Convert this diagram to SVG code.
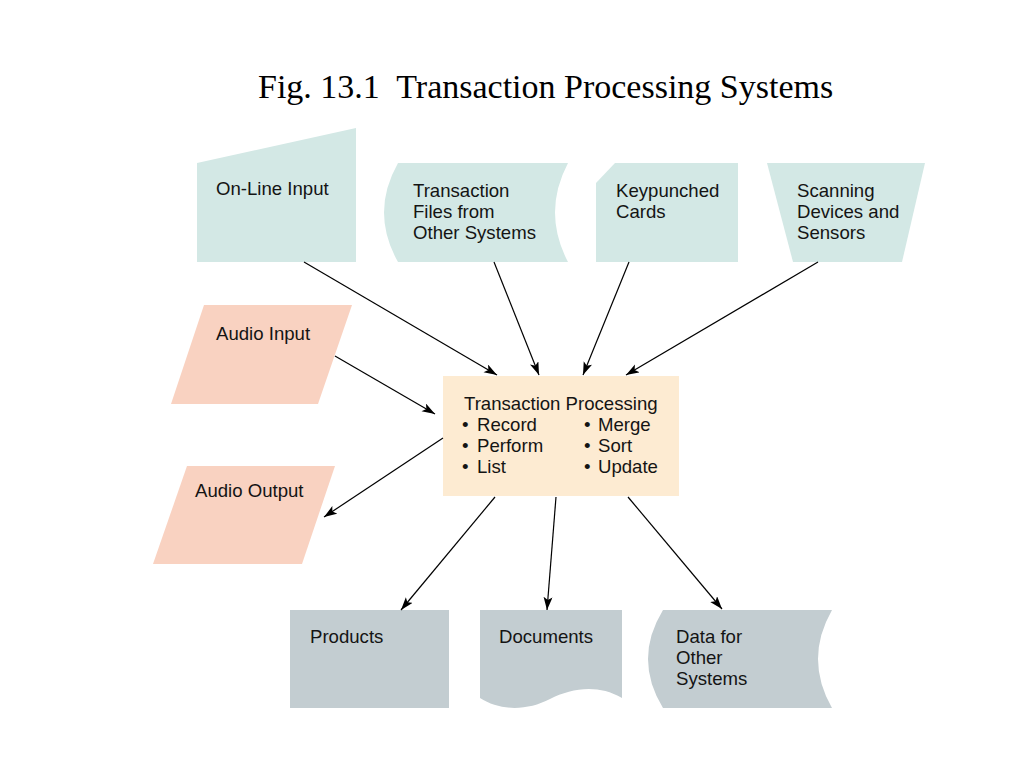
<svg xmlns="http://www.w3.org/2000/svg" width="1024" height="768" viewBox="0 0 1024 768">
<defs>
<marker id="arr" markerWidth="14" markerHeight="10" refX="13" refY="4.5" orient="auto" markerUnits="userSpaceOnUse">
<path d="M0,0 L13,4.5 L0,9 L3,4.5 Z" fill="#000"/>
</marker>
<style>
.lbl{font-family:"Liberation Sans",Arial,sans-serif;font-size:18.6px;fill:#141414}
.in{fill:#d3e8e5}
.au{fill:#f9d2c1}
.out{fill:#c3cdd1}
.core{fill:#fdebd2}
.con line{stroke:#000;stroke-width:1.2;marker-end:url(#arr)}
</style>
</defs>
<rect width="1024" height="768" fill="#fff"/>
<text x="258" y="98" xml:space="preserve" style="font-family:'Liberation Serif','Times New Roman',serif;font-size:34px;fill:#000">Fig. 13.1  Transaction Processing Systems</text>

<g id="online-input">
<polygon class="in" points="197,163 356,128 356,262 197,262"/>
<text class="lbl" x="216" y="195">On-Line Input</text>
</g>
<g id="transaction-files">
<path class="in" d="M398,163 H568 Q542,212.5 568,262 H398 Q370,212.5 398,163 Z"/>
<text class="lbl" x="413" y="197">Transaction</text>
<text class="lbl" x="413" y="218">Files from</text>
<text class="lbl" x="413" y="239">Other Systems</text>
</g>
<g id="keypunched-cards">
<polygon class="in" points="615,163 738,163 738,262 596,262 596,183"/>
<text class="lbl" x="616" y="197">Keypunched</text>
<text class="lbl" x="616" y="218">Cards</text>
</g>
<g id="scanning-devices">
<polygon class="in" points="767,163 925,163 902,262 793,262"/>
<text class="lbl" x="797" y="197">Scanning</text>
<text class="lbl" x="797" y="218">Devices and</text>
<text class="lbl" x="797" y="239">Sensors</text>
</g>
<g id="audio-input">
<polygon class="au" points="204,305 352,305 318,404 171,404"/>
<text class="lbl" x="216" y="340">Audio Input</text>
</g>
<g id="audio-output">
<polygon class="au" points="187,466 335,466 302,564 153,564"/>
<text class="lbl" x="195" y="497">Audio Output</text>
</g>
<g id="transaction-processing">
<rect class="core" x="443" y="376" width="236" height="120"/>
<text class="lbl" x="464" y="410">Transaction Processing</text>
<text class="lbl" y="431"><tspan x="462">•</tspan><tspan x="477">Record</tspan></text>
<text class="lbl" y="452"><tspan x="462">•</tspan><tspan x="477">Perform</tspan></text>
<text class="lbl" y="473"><tspan x="462">•</tspan><tspan x="477">List</tspan></text>
<text class="lbl" y="431"><tspan x="584">•</tspan><tspan x="598">Merge</tspan></text>
<text class="lbl" y="452"><tspan x="584">•</tspan><tspan x="598">Sort</tspan></text>
<text class="lbl" y="473"><tspan x="584">•</tspan><tspan x="598">Update</tspan></text>
</g>
<g id="products">
<rect class="out" x="290" y="610" width="159" height="98"/>
<text class="lbl" x="310" y="643">Products</text>
</g>
<g id="documents">
<path class="out" d="M480,610 H622 V698 C598,684 572,688 550,699 C527,711 500,711 480,698 Z"/>
<text class="lbl" x="499" y="643">Documents</text>
</g>
<g id="data-other-systems">
<path class="out" d="M663,610 H832 Q804,659 832,708 H663 Q633,659 663,610 Z"/>
<text class="lbl" x="676" y="643">Data for</text>
<text class="lbl" x="676" y="664">Other</text>
<text class="lbl" x="676" y="685">Systems</text>
</g>

<g id="connectors" class="con">
<line x1="304" y1="262" x2="497" y2="375"/>
<line x1="494" y1="262" x2="539" y2="375"/>
<line x1="629" y1="262" x2="583" y2="375"/>
<line x1="818" y1="262" x2="626" y2="375"/>
<line x1="335" y1="356" x2="435" y2="414"/>
<line x1="443" y1="438" x2="324" y2="517"/>
<line x1="495" y1="497" x2="401" y2="610"/>
<line x1="556" y1="497" x2="547" y2="610"/>
<line x1="628" y1="497" x2="722" y2="609"/>
</g>
</svg>
